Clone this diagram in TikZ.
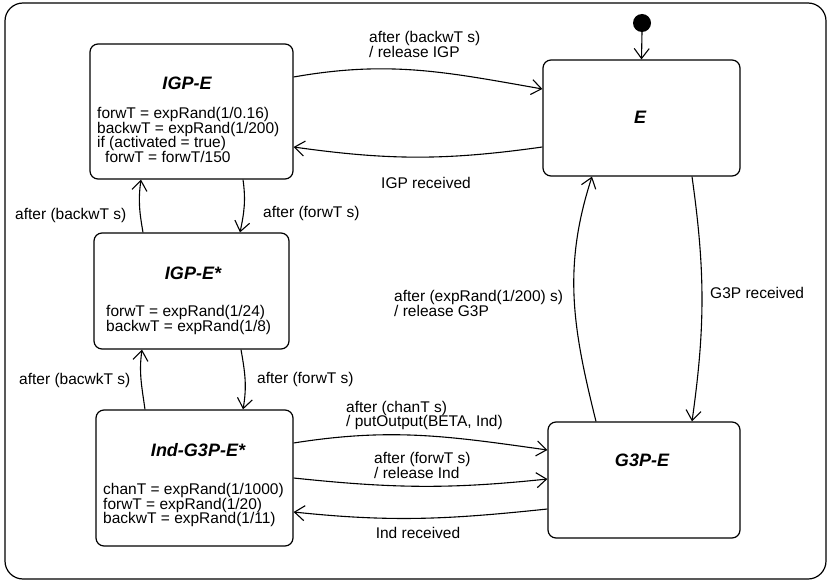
\documentclass[tikz,border=0pt]{standalone}
\usepackage{fontspec}
\setmainfont{Liberation Sans}
\usetikzlibrary{arrows.meta}
\tikzset{
  x=1pt,y=1pt,
  statebox/.style={draw,line width=1.2pt,rounded corners=8pt,inner sep=0pt},
  ttl/.style={font=\fontsize{18}{18}\selectfont\bfseries\itshape,inner sep=0pt},
  body/.style={font=\fontsize{15.5}{14.5}\selectfont,align=left,inner sep=0pt,anchor=west},
  lbl/.style={font=\fontsize{15.5}{14.5}\selectfont,align=left,inner sep=0pt},
  tr/.style={line width=1.1pt,-{Straight Barb[length=10pt,width=15pt,line width=1.1pt]}}
}
\begin{document}
\begin{tikzpicture}
\useasboundingbox (0,0) rectangle (830,582);
\draw[line width=1.2pt,rounded corners=18pt] (5,3) rectangle (826,579);
% states
\node[statebox,minimum width=203pt,minimum height=135pt] (igpe) at (191.5,470.5) {};
\node[statebox,minimum width=197pt,minimum height=116pt] (e) at (641.5,464) {};
\node[statebox,minimum width=195pt,minimum height=116pt] (igpes) at (191.5,291) {};
\node[statebox,minimum width=197pt,minimum height=136pt] (ind) at (194.5,104) {};
\node[statebox,minimum width=192pt,minimum height=116pt] (g3p) at (644,102) {};
% titles
\node[ttl] (t1) at (187,499) {IGP-E};
\node[ttl] (t2) at (640,465) {E};
\node[ttl] (t3) at (193,309) {IGP-E*};
\node[ttl] (t4) at (198,132) {Ind-G3P-E*};
\node[ttl] (t5) at (642,122) {G3P-E};
% bodies
\node[body] (b1) at (97,447) {forwT = expRand(1/0.16)\\backwT = expRand(1/200)\\if (activated = true)\\\hspace*{8pt}forwT = forwT/150};
\node[body] (b3) at (106,262) {forwT = expRand(1/24)\\backwT = expRand(1/8)};
\node[body] (b4) at (103,77) {chanT = expRand(1/1000)\\forwT = expRand(1/20)\\backwT = expRand(1/11)};
% initial
\fill (642,559) circle (9pt);
\coordinate (init) at (642,550);
\draw[tr] (init) -- (e.north);
% transitions
\draw[tr] ([yshift=34.5pt]igpe.east) to[out=10,in=170] ([yshift=29pt]e.west);
\draw[tr] ([yshift=-29pt]e.west) to[out=188,in=-8] ([yshift=-35.5pt]igpe.east);
\draw[tr] ([xshift=51.5pt]igpe.south) to[out=-82,in=78] ([xshift=48.5pt]igpes.north);
\draw[tr] ([xshift=-48.5pt]igpes.north) to[out=100,in=-98] ([xshift=-50.5pt]igpe.south);
\draw[tr] ([xshift=49.5pt]igpes.south) to[out=-80,in=80] ([xshift=48.5pt]ind.north);
\draw[tr] ([xshift=-49.5pt]ind.north) to[out=98,in=-98] ([xshift=-49.5pt]igpes.south);
\draw[tr] ([yshift=35pt]ind.east) to[out=9,in=172] ([yshift=30pt]g3p.west);
\draw[tr] ([yshift=0pt]ind.east) to[out=-6,in=186] ([yshift=1pt]g3p.west);
\draw[tr] ([yshift=-29pt]g3p.west) to[out=186,in=-6] ([yshift=-34pt]ind.east);
\draw[tr] ([xshift=-48pt]g3p.north) to[out=104,in=-108] ([xshift=-49.5pt]e.south);
\draw[tr] ([xshift=50.5pt]e.south) to[out=-82,in=82] ([xshift=48pt]g3p.north);
% labels
\node[lbl,anchor=west] (l1) at (369,537.5) {after (backwT s)\\/ release IGP};
\node[lbl] (l2) at (426,399) {IGP received};
\node[lbl,anchor=west] (l3) at (263,369) {after (forwT s)};
\node[lbl,anchor=west] (l4) at (15,367) {after (backwT s)};
\node[lbl,anchor=west] (l5) at (257,203) {after (forwT s)};
\node[lbl,anchor=west] (l6) at (19,202) {after (bacwkT s)};
\node[lbl,anchor=west] (l7) at (346,166.5) {after (chanT s)\\/ putOutput(BETA, Ind)};
\node[lbl,anchor=west] (l8) at (374,116.5) {after (forwT s)\\/ release Ind};
\node[lbl] (l9) at (418,49) {Ind received};
\node[lbl,anchor=west] (l10) at (394,278.5) {after (expRand(1/200) s)\\/ release G3P};
\node[lbl,anchor=west] (l11) at (710,289) {G3P received};
\end{tikzpicture}
\end{document}
